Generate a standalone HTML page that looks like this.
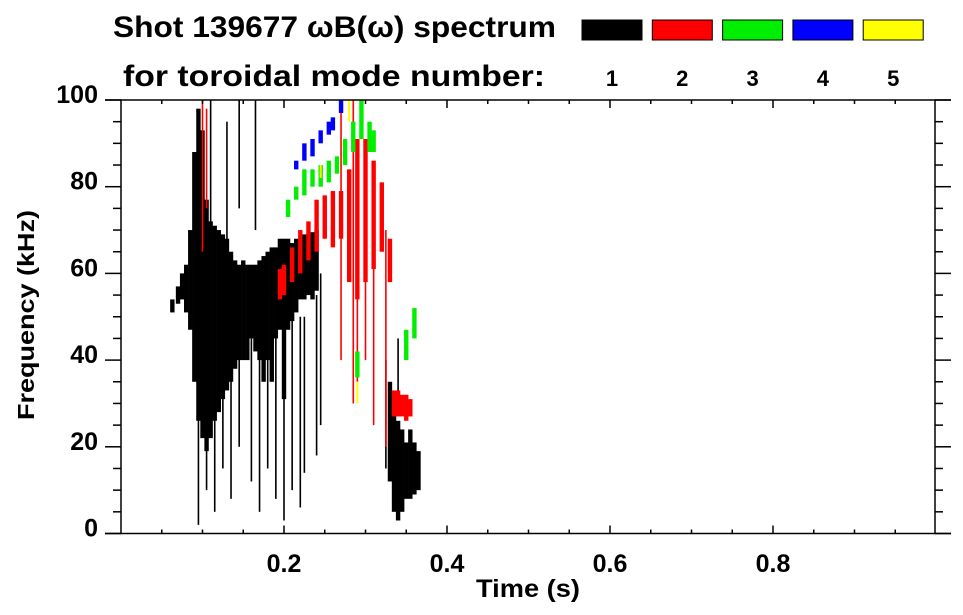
<!DOCTYPE html>
<html><head><meta charset="utf-8"><style>
body{margin:0;background:#fff;}
svg{display:block;font-family:"Liberation Sans",sans-serif;font-weight:bold;}
</style></head><body>
<svg id="chart" width="963" height="615" viewBox="0 0 963 615" xmlns="http://www.w3.org/2000/svg">
<text x="113" y="37" font-size="30" textLength="443" lengthAdjust="spacingAndGlyphs">Shot 139677 ωB(ω) spectrum</text>
<text x="123" y="86" font-size="30" textLength="422" lengthAdjust="spacingAndGlyphs">for toroidal mode number:</text>
<g id="legend"></g>
<g id="marks"></g>
<g id="axes"></g>
<text x="528" y="597" font-size="25" text-anchor="middle" textLength="104" lengthAdjust="spacingAndGlyphs">Time (s)</text>
<text x="0" y="0" font-size="23" text-anchor="middle" transform="translate(34,315) rotate(-90)" textLength="210" lengthAdjust="spacingAndGlyphs">Frequency (kHz)</text>
</svg>
<script>
const modeColors=["#000000","#ff0000","#00ee00","#0000ff","#ffff00"];
const modeLabels=["1","2","3","4","5"];
const xTicks=[0.2,0.4,0.6,0.8];
const yTicks=[0,20,40,60,80,100];
// main bands: [time, fLow, fHigh]
const mode1Band=[[0.063,51,54],[0.07,53,57],[0.075,54,60],[0.08,51,62],[0.085,47,70],[0.09,35,88],[0.095,26,98],[0.10,22,93],[0.105,19,77],[0.11,22,72],[0.115,26,71],[0.12,28,70],[0.125,31,69],[0.13,33,68],[0.135,35,65],[0.14,38,63],[0.145,40,62],[0.15,40,63],[0.155,40,62],[0.16,45,62],[0.165,42,62],[0.17,40,63],[0.175,35,64],[0.18,40,65],[0.185,35,66],[0.19,45,66],[0.195,47,68],[0.20,31,68],[0.205,47,68],[0.21,49,67],[0.215,51,68],[0.22,54,68],[0.225,54,69],[0.23,55,69],[0.235,54,69.5],[0.24,56,70],[0.33,12,35],[0.335,5,31],[0.34,3,26],[0.345,5,24],[0.35,8,21],[0.355,8,24],[0.36,9,21],[0.365,10,19]];
const mode1Streaks=[[0.095,2,40],[0.105,10,40],[0.115,5,40],[0.125,15,40],[0.135,8,45],[0.145,20,45],[0.16,12,45],[0.17,5,45],[0.18,15,45],[0.19,8,48],[0.2,3,50],[0.21,10,50],[0.22,6,50],[0.225,14,50],[0.24,18,55],[0.245,25,60],[0.11,70,100],[0.13,65,95],[0.165,70,100],[0.145,75,100],[0.34,30,45],[0.325,15,40]];
const mode2Band=[[0.195,54,61],[0.20,55,62],[0.21,58,66],[0.22,60,70],[0.23,63,72],[0.24,65,77],[0.25,68,78],[0.26,66,79],[0.27,68,79],[0.28,58,84],[0.29,54,91],[0.30,58,91],[0.31,61,86],[0.32,65,81],[0.33,58,68],[0.335,27,33],[0.34,27,33],[0.345,27,32],[0.35,26,32],[0.355,27,31]];
const mode2Streaks=[[0.285,30,100],[0.27,40,100],[0.31,25,80],[0.3,40,90],[0.325,20,70],[0.29,35,75],[0.1,65,100],[0.105,75,98],[0.2,58,62]];
const mode3Band=[[0.205,73,77],[0.215,77,80],[0.225,78,84],[0.235,80,84],[0.245,80,85],[0.255,81,86],[0.265,83,87],[0.275,85,91],[0.285,88,95],[0.295,91,100],[0.305,88,95],[0.31,88,93],[0.35,40,47],[0.36,45,52],[0.29,36,42]];
const mode4Band=[[0.215,84,86],[0.225,86,90],[0.235,87,91],[0.245,90,93],[0.255,92,95],[0.26,93,96],[0.27,97,100]];
const mode5Band=[[0.28,95,100],[0.29,30,35],[0.245,82,85]];

const NS="http://www.w3.org/2000/svg";
const X0=121,XW=815,Y0=533.5,YH=433.5;
const xs=t=>X0+t*XW;
const ys=f=>Y0-f/100*YH;
function mk(tag,attrs,parent){const e=document.createElementNS(NS,tag);for(const k in attrs)e.setAttribute(k,attrs[k]);parent.appendChild(e);return e;}

const legend=document.getElementById('legend');
modeColors.forEach((c,i)=>{
  const r=mk('rect',{x:582+i*70.3,y:20,width:60,height:20,fill:c,stroke:'#000','stroke-width':1},legend);
  
  
  const t=mk('text',{x:612+i*70.3,y:86,'font-size':22,'text-anchor':'middle'},legend);
  t.textContent=modeLabels[i];
  
  
});

const marks=document.getElementById('marks');
function drawBand(arr,color,w,name){
  arr.forEach(d=>{
    const r=mk('rect',{x:xs(d[0])-w/2,y:ys(d[2]),width:w,height:Math.max(1,ys(d[1])-ys(d[2])),fill:color},marks);
    
    
  });
}
drawBand(mode1Band,modeColors[0],4.4,'mode-1-cell');
drawBand(mode1Streaks,modeColors[0],1.6,'mode-1-streak');
drawBand(mode2Band,modeColors[1],4.4,'mode-2-cell');
drawBand(mode2Streaks,modeColors[1],1.6,'mode-2-streak');
drawBand(mode3Band,modeColors[2],4.4,'mode-3-cell');
drawBand(mode4Band,modeColors[3],4.4,'mode-4-cell');
drawBand(mode5Band,modeColors[4],2,'mode-5-cell');

const ax=document.getElementById('axes');
const st={stroke:'#000','stroke-width':1.5,fill:'none'};
mk('line',Object.assign({x1:105,y1:ys(100),x2:951,y2:ys(100)},st),ax);
mk('line',Object.assign({x1:105,y1:Y0,x2:951,y2:Y0},st),ax);
mk('line',Object.assign({x1:X0,y1:ys(100),x2:X0,y2:Y0},st),ax);
mk('line',Object.assign({x1:935,y1:ys(100),x2:935,y2:Y0},st),ax);
for(let f=0;f<=100;f+=5){
  const maj=f%20===0,len=maj?16:8;
  mk('line',Object.assign({x1:X0-len,y1:ys(f),x2:X0,y2:ys(f)},st),ax);
  mk('line',Object.assign({x1:935,y1:ys(f),x2:935+len,y2:ys(f)},st),ax);
}
for(let i=1;i<20;i++){
  const t=i*0.05,maj=i%4===0,len=maj?8:4;
  mk('line',Object.assign({x1:xs(t),y1:Y0,x2:xs(t),y2:Y0-len},st),ax);
  mk('line',Object.assign({x1:xs(t),y1:ys(100),x2:xs(t),y2:ys(100)+len},st),ax);
}
yTicks.forEach(v=>{
  const t=mk('text',{x:98,y:ys(v)+3,'font-size':25,'text-anchor':'end'},ax);
  t.textContent=String(v);
  
  
});
xTicks.forEach(v=>{
  const t=mk('text',{x:xs(v),y:572,'font-size':25,'text-anchor':'middle'},ax);
  t.textContent=v.toFixed(1);
  
  
});
</script>
</body></html>
